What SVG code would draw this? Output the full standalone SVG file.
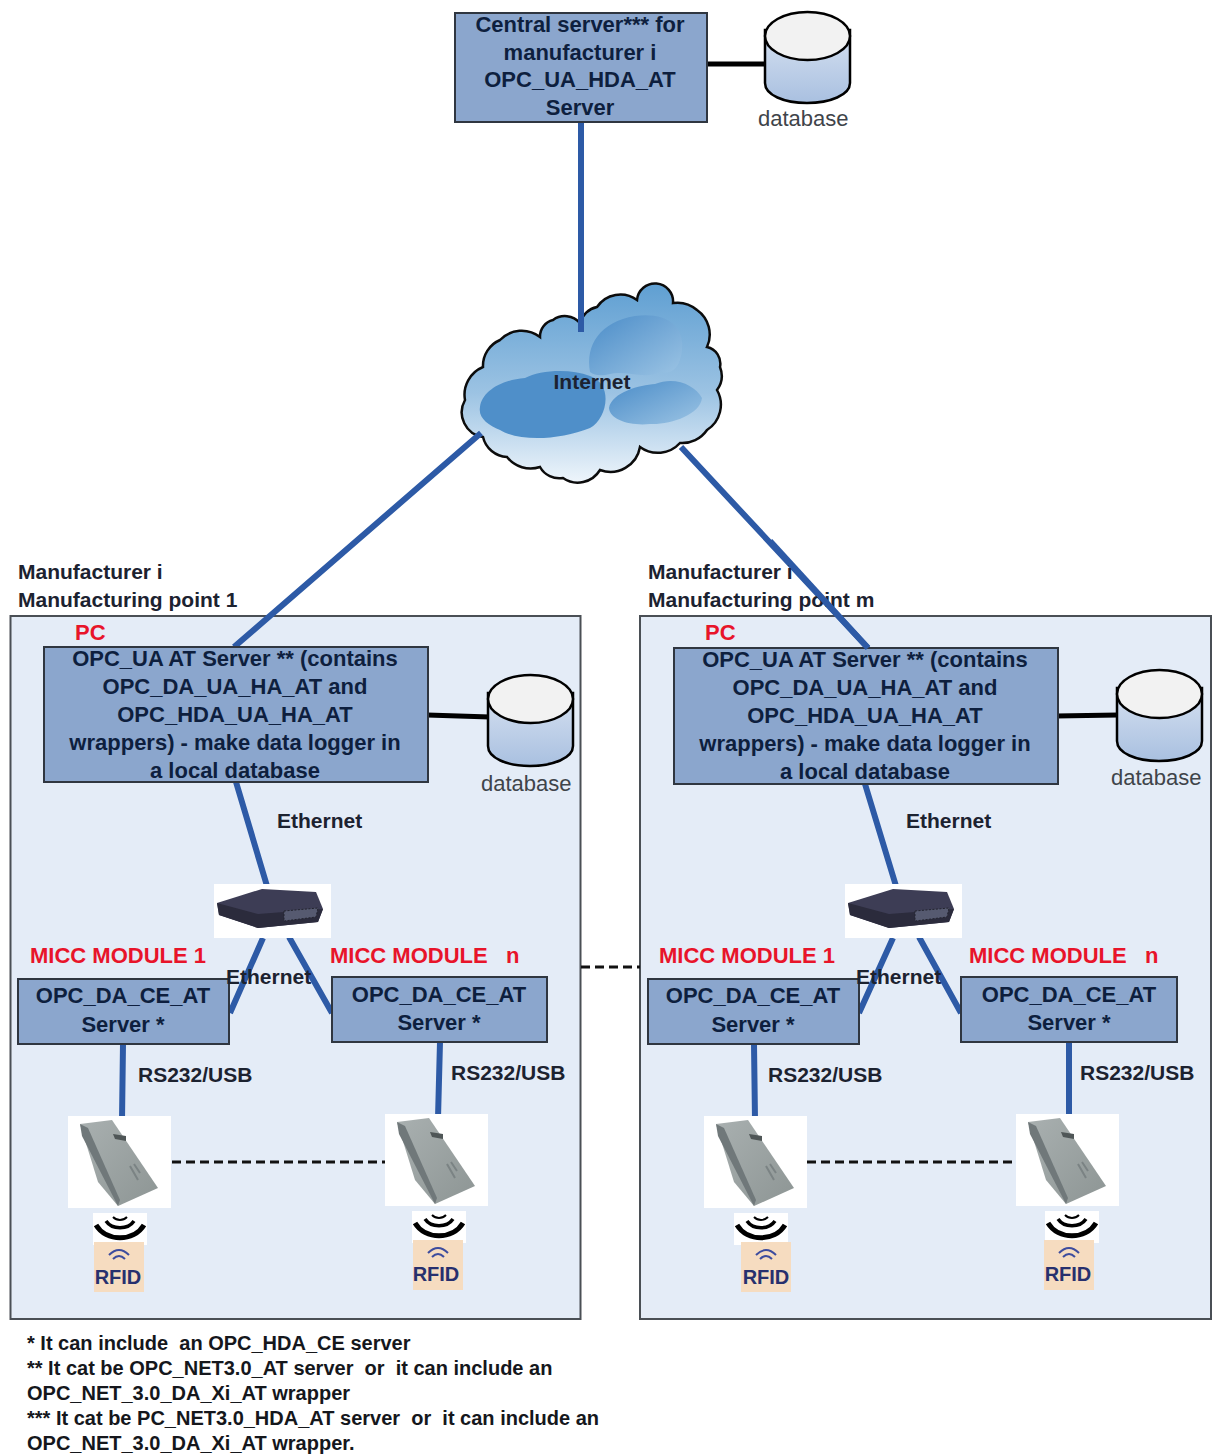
<svg xmlns="http://www.w3.org/2000/svg" xmlns:xlink="http://www.w3.org/1999/xlink" width="1213" height="1454" viewBox="0 0 1213 1454">
<style>
text{font-family:"Liberation Sans",Arial,sans-serif;font-weight:bold;font-size:21px;fill:#1c2230}
.c{text-anchor:middle}
.box{fill:#8ba6cd;stroke:#2f3640;stroke-width:2}
.panel{fill:#e4ecf7;stroke:#4a4f55;stroke-width:2}
.bt{fill:#0e1f3e;font-size:22px;text-anchor:middle}
.red{fill:#e8142a;font-size:22px}
.db{fill:#3f444a;font-weight:normal;font-size:22px}
.link{stroke:#2d5aa6;stroke-width:6;fill:none}
.blk{stroke:#000;stroke-width:5;fill:none}
.dash{stroke:#111;stroke-width:3;stroke-dasharray:9 5;fill:none}
.foot{font-size:20px;fill:#15171c}
.rf{fill:#27306e;font-size:20px;text-anchor:middle}
</style>
<defs>
<linearGradient id="cg" x1="0" y1="0" x2="0" y2="1"><stop offset="0" stop-color="#5f9fd2"/><stop offset=".55" stop-color="#9cc3e3"/><stop offset="1" stop-color="#eef5fb"/></linearGradient>
<linearGradient id="cd" x1="0" y1="0" x2="1" y2="1"><stop offset="0" stop-color="#4a8cc8"/><stop offset="1" stop-color="#9cc4e4"/></linearGradient>
<linearGradient id="dbg" x1="0" y1="0" x2="0" y2="1"><stop offset="0" stop-color="#d6e1f1"/><stop offset="1" stop-color="#a9c0e0"/></linearGradient>
<linearGradient id="rd" x1="0" y1="0" x2="1" y2="1"><stop offset="0" stop-color="#a9b0b0"/><stop offset="1" stop-color="#8d9594"/></linearGradient>
<g id="dbicon">
<path d="M0 17V70C0 82 19 90 42 90S85 82 85 70V17Z" fill="url(#dbg)" stroke="#000" stroke-width="2.5"/>
<ellipse cx="42.500" cy="23" rx="42.500" ry="24" fill="#f2f2f2" stroke="#000" stroke-width="2.500"/>
</g>
<g id="switch">
<rect x="0" y="0" width="117" height="54" fill="#fff"/>
<path d="M3 19L48 5L102 8L109 25L104 38L44 44L5 31Z" fill="#3d3d55"/>
<path d="M5 31L44 44L104 38L109 25L44 30L3 19Z" fill="#2b2b3c"/>
<path d="M70 27L104 24L102 33L70 37Z" fill="#565a70" stroke="#23242f" stroke-dasharray="2 1.500"/>
</g>
<g id="reader">
<rect x="0" y="0" width="103" height="92" fill="#fff"/>
<path d="M12 8L44 4L90 72L50 90L30 66Z" fill="url(#rd)"/>
<path d="M12 8L14 20L50 90L52 84L20 12Z" fill="#70787a"/>
<path d="M45 18L58 20L58 25L47 23Z" fill="#4f5657"/>
<path d="M66 48l6 9M62 50l8 14" stroke="#7b8384" stroke-width="2" fill="none"/>
</g>
<g id="waves" fill="none" stroke="#000">
<rect x="-27" y="-6" width="54" height="32" fill="#fff" stroke="none"/>
<path d="M-24 6C-14 23 14 23 24 6" stroke-width="5"/>
<path d="M-14 2C-8 11 8 11 14 2" stroke-width="3.500"/>
<path d="M-7 -2C-3 2 3 2 7 -2" stroke-width="2"/>
</g>
<g id="rfidbg">
<rect x="0" y="0" width="50" height="50" fill="#f6dcc0"/>
<g fill="none" stroke="#3d4c9e" stroke-width="2"><path d="M15 13Q25 3 35 13"/><path d="M19 17Q25 11 31 17"/></g>
</g>
</defs>
<rect width="1213" height="1454" fill="#fff"/>
<g id="panel-1"><rect class="panel" x="10.500" y="616" width="570" height="703"/></g>
<g id="panel-2"><rect class="panel" x="640" y="616" width="571" height="703"/></g>

<g id="internet">
<path d="M483 437A25 25 0 0 1 465 400A30 30 0 0 1 483 367A28 28 0 0 1 500 340A30 30 0 0 1 540 337A17 17 0 0 1 553 320A20 20 0 0 1 580 323A22 22 0 0 1 597 307A28 28 0 0 1 637 300A15 15 0 0 1 673 303A30 30 0 0 1 697 310A30 30 0 0 1 707 347A17 17 0 0 1 720 367A24 24 0 0 1 717 390A30 30 0 0 1 707 430A30 30 0 0 1 680 443A30 30 0 0 1 640 447A30 30 0 0 1 600 470A26 26 0 0 1 563 478A22 22 0 0 1 540 467A30 30 0 0 1 507 457A26 26 0 0 1 483 437Z" fill="url(#cg)" stroke="#0c0c0c" stroke-width="2.500"/>
<path d="M590 372C585 345 600 322 635 316C665 312 685 325 682 350C680 368 672 375 660 372C645 380 625 370 610 374C602 376 595 376 590 372Z" fill="url(#cd)"/>
<path d="M480 407C482 392 500 380 525 378C540 370 570 368 590 376C615 385 606 420 590 428C560 440 520 442 500 430C488 425 478 418 480 407Z" fill="#4f8fc9"/>
<path d="M609 408C612 392 640 385 655 384C675 376 695 385 702 398C700 415 670 425 650 424C630 426 610 420 609 408Z" fill="url(#cd)"/>
</g>

<g id="connectors">
<path class="link" d="M581 118V332M481 433L234 647M681 447L868 648"/>
<path class="blk" d="M703 64H767M427 715L490 717M1056 716L1118 715"/>
<path class="link" d="M236 782L267 886M865 784L896 886M263 938L230 1013M289 937L332 1013M893 938L859 1013M919 937L961 1013"/>
<path class="link" d="M123 1044L122 1120M440 1042L438 1118M754 1044L755 1120M1069 1042V1118"/>
<path class="dash" d="M172 1162H386M807 1162H1018M581 967H640"/>
</g>

<g id="central-server">
<rect class="box" x="455" y="13" width="252" height="109"/>
<text class="bt" x="580" y="32">Central server*** for</text>
<text class="bt" x="580" y="60">manufacturer  i</text>
<text class="bt" x="580" y="87">OPC_UA_HDA_AT</text>
<text class="bt" x="580" y="115">Server</text>
</g>
<g id="central-db"><use href="#dbicon" x="765" y="13"/><text class="db" x="758" y="126">database</text></g>
<text class="c" x="592" y="389">Internet</text>

<g id="pc-1">
<text class="red" x="75" y="640">PC</text>
<rect class="box" x="44" y="647" width="384" height="135"/>
<text class="bt" x="235" y="666">OPC_UA AT Server ** (contains</text>
<text class="bt" x="235" y="694">OPC_DA_UA_HA_AT and</text>
<text class="bt" x="235" y="722">OPC_HDA_UA_HA_AT</text>
<text class="bt" x="235" y="750">wrappers) - make data logger  in</text>
<text class="bt" x="235" y="778">a local database</text>
</g>
<g id="pc-2">
<text class="red" x="705" y="640">PC</text>
<rect class="box" x="674" y="648" width="384" height="136"/>
<text class="bt" x="865" y="667">OPC_UA AT Server ** (contains</text>
<text class="bt" x="865" y="695">OPC_DA_UA_HA_AT and</text>
<text class="bt" x="865" y="723">OPC_HDA_UA_HA_AT</text>
<text class="bt" x="865" y="751">wrappers) - make data logger  in</text>
<text class="bt" x="865" y="779">a local database</text>
</g>
<g id="db-1"><use href="#dbicon" x="488" y="676"/><text class="db" x="481" y="791">database</text></g>
<g id="db-2"><use href="#dbicon" x="1117" y="671"/><text class="db" x="1111" y="785">database</text></g>

<text x="18" y="579">Manufacturer i</text>
<text x="18" y="607">Manufacturing point 1</text>
<text x="648" y="579">Manufacturer i</text>
<text x="648" y="607">Manufacturing point m</text>
<path class="link" d="M770 541L868 648"/>

<text x="277" y="828">Ethernet</text>
<text x="906" y="828">Ethernet</text>

<g id="switch-1"><use href="#switch" x="214" y="884"/></g>
<g id="switch-2"><use href="#switch" x="845" y="884"/></g>

<g id="module-1-1">
<rect class="box" x="18" y="979" width="211" height="65"/>
<text class="bt" x="123" y="1003">OPC_DA_CE_AT</text>
<text class="bt" x="123" y="1032">Server *</text>
</g>
<g id="module-1-n">
<rect class="box" x="332" y="977" width="215" height="65"/>
<text class="bt" x="439" y="1002">OPC_DA_CE_AT</text>
<text class="bt" x="439" y="1030">Server *</text>
</g>
<g id="module-2-1">
<rect class="box" x="648" y="979" width="211" height="65"/>
<text class="bt" x="753" y="1003">OPC_DA_CE_AT</text>
<text class="bt" x="753" y="1032">Server *</text>
</g>
<g id="module-2-n">
<rect class="box" x="961" y="977" width="216" height="65"/>
<text class="bt" x="1069" y="1002">OPC_DA_CE_AT</text>
<text class="bt" x="1069" y="1030">Server *</text>
</g>

<text class="red" x="30" y="963">MICC MODULE  1</text>
<text class="red" x="330" y="963" xml:space="preserve">MICC MODULE   n</text>
<text class="red" x="659" y="963">MICC MODULE  1</text>
<text class="red" x="969" y="963" xml:space="preserve">MICC MODULE   n</text>
<text x="226" y="984">Ethernet</text>
<text x="856" y="984">Ethernet</text>
<text x="138" y="1082">RS232/USB</text>
<text x="451" y="1080">RS232/USB</text>
<text x="768" y="1082">RS232/USB</text>
<text x="1080" y="1080">RS232/USB</text>

<g id="reader-1-1"><use href="#reader" x="68" y="1116"/><use href="#waves" x="120" y="1219"/><use href="#rfidbg" x="94" y="1242"/><text class="rf" x="118" y="1284">RFID</text></g>
<g id="reader-1-n"><use href="#reader" x="385" y="1114"/><use href="#waves" x="439" y="1217"/><use href="#rfidbg" x="413" y="1240"/><text class="rf" x="436" y="1281">RFID</text></g>
<g id="reader-2-1"><use href="#reader" x="704" y="1116"/><use href="#waves" x="761" y="1219"/><use href="#rfidbg" x="741" y="1242"/><text class="rf" x="766" y="1284">RFID</text></g>
<g id="reader-2-n"><use href="#reader" x="1016" y="1114"/><use href="#waves" x="1072" y="1217"/><use href="#rfidbg" x="1044" y="1240"/><text class="rf" x="1068" y="1281">RFID</text></g>

<g id="footnotes">
<text class="foot" x="27" y="1350" xml:space="preserve">* It can include  an OPC_HDA_CE server</text>
<text class="foot" x="27" y="1375" xml:space="preserve">** It cat be OPC_NET3.0_AT server  or  it can include an</text>
<text class="foot" x="27" y="1400">OPC_NET_3.0_DA_Xi_AT wrapper</text>
<text class="foot" x="27" y="1425" xml:space="preserve">*** It cat be PC_NET3.0_HDA_AT server  or  it can include an</text>
<text class="foot" x="27" y="1450">OPC_NET_3.0_DA_Xi_AT wrapper.</text>
</g>
</svg>
